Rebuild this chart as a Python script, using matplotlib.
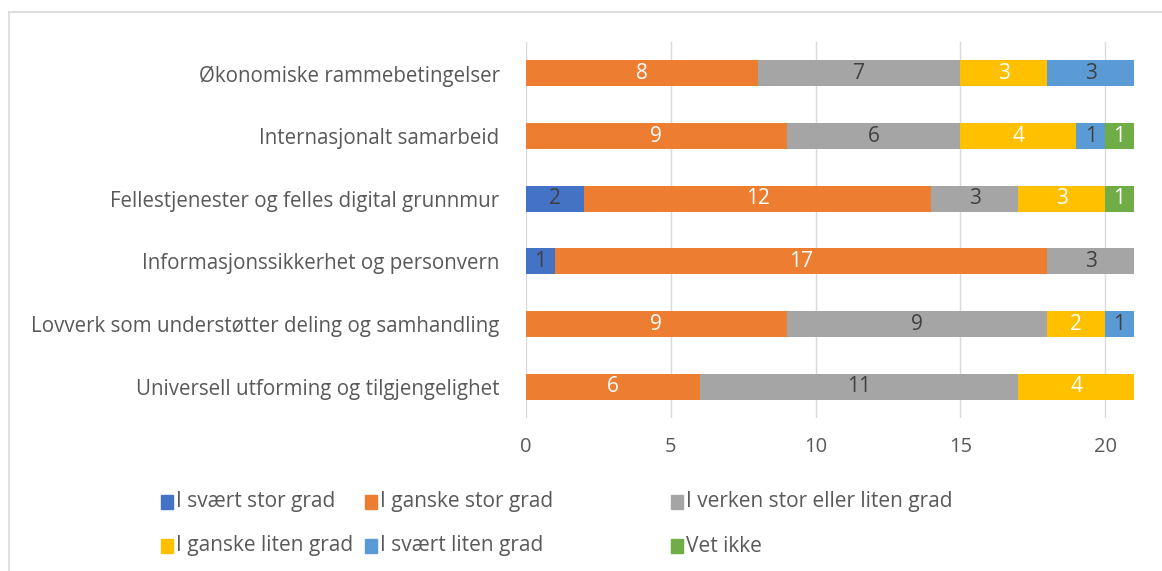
import matplotlib
matplotlib.use("Agg")
import matplotlib.pyplot as plt
from matplotlib.patches import Rectangle
import numpy as np

categories = [
    "Økonomiske rammebetingelser",
    "Internasjonalt samarbeid",
    "Fellestjenester og felles digital grunnmur",
    "Informasjonssikkerhet og personvern",
    "Lovverk som understøtter deling og samhandling",
    "Universell utforming og tilgjengelighet",
]
series_names = [
    "I svært stor grad",
    "I ganske stor grad",
    "I verken stor eller liten grad",
    "I ganske liten grad",
    "I svært liten grad",
    "Vet ikke",
]
svaert_stor = [0, 0, 2, 1, 0, 0]
ganske_stor = [8, 9, 12, 17, 9, 6]
verken = [7, 6, 3, 3, 9, 11]
ganske_liten = [3, 4, 3, 0, 2, 4]
svaert_liten = [3, 1, 0, 0, 1, 0]
vet_ikke = [0, 1, 1, 0, 0, 0]
x_ticks = [0, 5, 10, 15, 20]

series = [svaert_stor, ganske_stor, verken, ganske_liten, svaert_liten, vet_ikke]
colors = ["#4472C4", "#ED7D31", "#A5A5A5", "#FFC000", "#5B9BD5", "#70AD47"]
label_colors = ["#404040", "white", "#404040", "white", "#404040", "white"]

plt.rcParams['font.family'] = ['Open Sans', 'DejaVu Sans']
text_gray = "#595959"

fig = plt.figure(figsize=(11.62, 5.71), dpi=100)
W, H = 1162, 571
ax = fig.add_axes([526 / W, 1 - 418 / H, (1134 - 526) / W, (418 - 42) / H])

y = np.arange(len(categories))[::-1]
left = np.zeros(len(categories))
for vals, c, lc in zip(series, colors, label_colors):
    v = np.array(vals, dtype=float)
    ax.barh(y, v, left=left, height=0.42, color=c, zorder=3)
    for yi, li, vi in zip(y, left, v):
        if vi > 0:
            ax.text(li + vi / 2, yi, f"{int(vi)}", ha="center", va="center",
                    color=lc, fontsize=15, zorder=4)
    left += v

ax.set_xlim(0, 21)
ax.set_ylim(-0.5, len(categories) - 0.5)
ax.set_xticks(x_ticks)
ax.set_yticks(y)
ax.set_yticklabels(categories)
ax.tick_params(axis="both", length=0, colors=text_gray)
ax.tick_params(axis="y", pad=19, labelsize=14.8)
ax.tick_params(axis="x", pad=14, labelsize=14.5)
ax.grid(axis="x", color="#D9D9D9", linewidth=1, zorder=0)
for s in ax.spines.values():
    s.set_visible(False)

# Figure border (chart area frame)
fig.add_artist(plt.Line2D([9 / W, 9 / W], [0, 1 - 12 / H], color="#D9D9D9",
                          linewidth=1.2, transform=fig.transFigure))
fig.add_artist(plt.Line2D([9 / W, 1], [1 - 12 / H, 1 - 12 / H], color="#D9D9D9",
                          linewidth=1.2, transform=fig.transFigure))

# Legend, drawn manually to match layout
leg_pos = [(161, 502), (365, 502), (671, 502), (161, 546), (365, 546), (671, 546)]
for (px, py), name, c in zip(leg_pos, series_names, colors):
    fig.add_artist(Rectangle((px / W, 1 - (py + 7) / H), 12 / W, 14 / H,
                             color=c, transform=fig.transFigure))
    fig.text((px + 15) / W, 1 - py / H, name, ha="left", va="center",
             fontsize=15, color=text_gray)

fig.savefig("out.png", dpi=100)
